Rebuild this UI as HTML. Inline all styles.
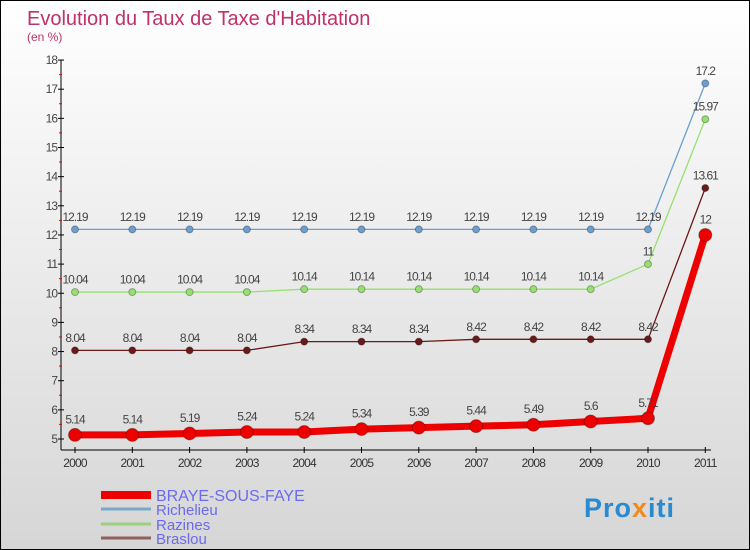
<!DOCTYPE html>
<html><head><meta charset="utf-8"><style>
body{margin:0}
#c{width:748px;height:548px;border:1px solid #000;background:linear-gradient(#fff,#d6d6d6);position:relative;font-family:"Liberation Sans",sans-serif;overflow:hidden}
</style></head><body>
<div id="c">
<svg id="s" width="748" height="548" style="position:absolute;left:0;top:0">
<text x="26" y="24" font-size="20" fill="#c0306a">Evolution du Taux de Taxe d'Habitation</text>
<text x="26" y="40" font-size="12" fill="#c0306a">(en %)</text>
<g id="g"></g>
<text x="583" y="516" font-size="27" font-weight="bold" fill="#2a8ad0" letter-spacing="1">Pro<tspan fill="#f08a20">x</tspan>iti</text>
</svg>
</div>
<script>
const years=["2000","2001","2002","2003","2004","2005","2006","2007","2008","2009","2010","2011"];
const braye=[5.14,5.14,5.19,5.24,5.24,5.34,5.39,5.44,5.49,5.6,5.71,12];
const richelieu=[12.19,12.19,12.19,12.19,12.19,12.19,12.19,12.19,12.19,12.19,12.19,17.2];
const razines=[10.04,10.04,10.04,10.04,10.14,10.14,10.14,10.14,10.14,10.14,11,15.97];
const braslou=[8.04,8.04,8.04,8.04,8.34,8.34,8.34,8.42,8.42,8.42,8.42,13.61];
const yTicks=[5,6,7,8,9,10,11,12,13,14,15,16,17,18];
const X=i=>74+i*57.3, Y=v=>438-(v-5)*29.15;
const g=document.getElementById('g'),NS="http://www.w3.org/2000/svg";
function el(t,a,txt){const e=document.createElementNS(NS,t);for(const k in a)e.setAttribute(k,a[k]);if(txt!==undefined)e.textContent=txt;g.appendChild(e);return e;}
let e=el('line',{x1:60,y1:59,x2:60,y2:449,stroke:'#000'});

e=el('line',{x1:60,y1:449,x2:710,y2:449,stroke:'#000'});

yTicks.forEach(v=>{const y=Y(v);
el('line',{x1:57,y1:y,x2:63,y2:y,stroke:'#000'});
if(v<18)el('line',{x1:58,y1:y-14.6,x2:61,y2:y-14.6,stroke:'#e00'});
e=el('text',{x:56,y:y+4,'font-size':12,fill:'#444','text-anchor':'end','letter-spacing':'-1'},v);
});
years.forEach((yr,i)=>{el('line',{x1:X(i),y1:446,x2:X(i),y2:452,stroke:'#000'});
e=el('text',{x:X(i),y:466,'font-size':12,fill:'#333','text-anchor':'middle','letter-spacing':'-0.8'},yr);
});
function series(d,col,w,r,name){
const p=el('polyline',{points:d.map((v,i)=>X(i)+','+Y(v)).join(' '),fill:'none',stroke:col,'stroke-width':w});

d.forEach((v,i)=>{const c=el('circle',{cx:X(i),cy:Y(v),r:r,fill:col,stroke:'rgba(0,0,0,0.3)'});

const t=el('text',{x:X(i),y:Y(v)-(r+5),'font-size':12,fill:'#444','text-anchor':'middle','letter-spacing':'-1'},String(v));
});}
series(richelieu,'#6a9fd0',1.3,3.5,'richelieu');
series(razines,'#96e070',1.3,3.5,'razines');
series(braslou,'#6a1a1a',1.3,3.5,'braslou');
series(braye,'#ee0000',7,6.5,'braye-sous-faye');
const leg=[['BRAYE-SOUS-FAYE','#ee0000',8,494,16],['Richelieu','#7aa8c8',3,508,15],['Razines','#9ad080',3,523,15],['Braslou','#906060',3,537,15]];
leg.forEach(l=>{e=el('line',{x1:100,y1:l[3],x2:150,y2:l[3],stroke:l[1],'stroke-width':l[2]});

e=el('text',{x:155,y:l[3]+6,'font-size':l[4],fill:'#6a6af0'},l[0]);
});
</script>
</body></html>
